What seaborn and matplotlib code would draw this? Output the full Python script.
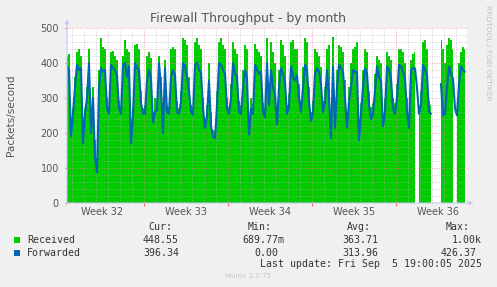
import numpy as np
import pandas as pd
import seaborn as sns
import matplotlib.pyplot as plt
import matplotlib.dates as mdates
from matplotlib.patches import Rectangle

# samples every 4 hours
start = pd.Timestamp('2025-08-04 14:00')
times = pd.date_range(start, periods=200, freq='4h')

received = [
    420, 425, 220, 270, 360, 430, 440, 420, 200, 270,
    330, 440, 250, 330, 180, 110, 380, 470, 445, 440,
    300, 275, 430, 435, 420, 410, 290, 275, 420, 465,
    440, 430, 200, 270, 450, 455, 440, 320, 270, 280,
    420, 430, 415, 260, 300, 300, 420, 360, 230, 410,
    280, 275, 440, 445, 440, 290, 270, 320, 470, 465,
    450, 360, 280, 275, 460, 470, 450, 440, 300, 240,
    280, 400, 260, 210, 205, 320, 460, 470, 450, 440,
    300, 275, 340, 460, 440, 425, 290, 280, 380, 450,
    440, 230, 300, 285, 455, 440, 430, 420, 285, 270,
    470, 320, 460, 430, 400, 260, 380, 465, 450, 420,
    280, 310, 460, 465, 440, 440, 340, 290, 390, 470,
    460, 330, 260, 290, 440, 430, 420, 390, 290, 330,
    440, 450, 230, 475, 260, 380, 450, 445, 430, 350,
    250, 330, 400, 440, 445, 460, 210, 285, 380, 440,
    430, 320, 275, 285, 370, 420, 410, 400, 250, 300,
    430, 420, 410, 300, 285, 340, 440, 440, 430, 400,
    300, 250, 410, 425, 430, np.nan, 280, 320, 460, 465,
    440, 290, 280, np.nan, np.nan, np.nan, np.nan, 465, 440, 400,
    450, 470, 465, 440, np.nan, 280, 400, 430, 445, 440,
]

forwarded = [
    390, 380, 190, 255, 330, 395, 380, 385, 170, 255,
    300, 400, 200, 300, 130, 88, 330, 385, 375, 380,
    270, 255, 395, 385, 380, 365, 270, 255, 395, 400,
    360, 390, 170, 250, 400, 385, 380, 285, 255, 255,
    350, 380, 355, 230, 260, 265, 400, 330, 200, 385,
    260, 255, 360, 380, 365, 260, 255, 290, 400, 390,
    360, 320, 260, 252, 395, 400, 380, 375, 270, 215,
    250, 350, 220, 190, 185, 280, 400, 395, 380, 370,
    270, 255, 300, 400, 370, 360, 260, 255, 330, 380,
    355, 195, 270, 255, 395, 380, 370, 375, 260, 245,
    400, 280, 380, 330, 310, 225, 330, 385, 370, 345,
    255, 275, 390, 360, 350, 365, 300, 260, 330, 395,
    380, 290, 235, 260, 370, 385, 375, 340, 260, 290,
    380, 300, 185, 390, 215, 330, 395, 385, 375, 300,
    215, 290, 330, 380, 375, 375, 180, 255, 330, 385,
    370, 280, 240, 255, 320, 390, 360, 350, 220, 260,
    390, 380, 355, 270, 255, 300, 395, 390, 375, 355,
    260, 215, 380, 385, 385, 330, 255, 280, 395, 380,
    365, 260, 255, np.nan, np.nan, np.nan, np.nan, 340, 250, 255,
    330, 390, 370, 355, 270, 250, 340, 390, 380, 375,
]

week_labels = ['Week 32', 'Week 33', 'Week 34', 'Week 35', 'Week 36']
legend_rows = [
    ('Received', '#00CC00', ['448.55', '689.77m', '363.71', '1.00k']),
    ('Forwarded', '#0066B3', ['396.34', '0.00', '313.96', '426.37']),
]

x = mdates.date2num(times.to_pydatetime())
df = pd.DataFrame({'time': x, 'received': received, 'forwarded': forwarded})
df['seg'] = df['forwarded'].isna().cumsum()

sns.set_style('white')
plt.rcParams['font.family'] = ['DejaVu Sans']

W, H = 497, 287
def fx(px):
    return px / W
def fy(py):
    return 1 - py / H

fig = plt.figure(figsize=(W / 100, H / 100), dpi=100, facecolor='#F0F0F0')
ax = fig.add_axes([fx(67), fy(203), 400 / W, 175 / H])
ax.set_facecolor('white')

# received as area
ax.fill_between(df['time'], 0, df['received'], step='mid', color='#00CC00',
                lw=0, zorder=1)

# grid (rrdtool draws it over the area)
t0 = mdates.date2num(start.to_pydatetime())
t_end = t0 + 800 / 24
days = mdates.date2num(pd.date_range('2025-08-05', '2025-09-06', freq='D').to_pydatetime())
mondays = mdates.date2num(pd.date_range('2025-08-11', periods=4, freq='7D').to_pydatetime())
mids = mdates.date2num(pd.date_range('2025-08-07 12:00', periods=5, freq='7D').to_pydatetime())
for v in range(20, 500, 20):
    if v % 100:
        ax.axhline(v, color='#B0B0B0', alpha=0.6, lw=0.7, ls=(0, (1, 1.5)), zorder=2)
for v in range(100, 501, 100):
    ax.axhline(v, color='#F08080', alpha=0.7, lw=0.7, ls=(0, (1, 1.5)), zorder=2)
for d in days:
    if d not in mondays:
        ax.axvline(d, color='#B0B0B0', alpha=0.6, lw=0.7, ls=(0, (1, 1.5)), zorder=2)
for d in mondays:
    ax.axvline(d, color='#F08080', alpha=0.7, lw=0.7, ls=(0, (1, 1.5)), zorder=2)

# forwarded as line
sns.lineplot(data=df.dropna(subset=['forwarded']), x='time', y='forwarded',
             units='seg', estimator=None, color='#0066B3', lw=1.5, ax=ax,
             zorder=3)

ax.set_xlim(t0, t_end)
ax.set_ylim(0, 500)
ax.set_xlabel('')
ax.set_ylabel('')
for s in ax.spines.values():
    s.set_visible(False)

ax.set_yticks(range(0, 501, 100))
ax.tick_params(axis='y', which='major', direction='out', length=1.5, width=0.8,
               color='#FF6060', labelsize=7, labelcolor='#555555', pad=4.3, left=True)
ax.set_xticks(mids)
ax.set_xticklabels(week_labels)
ax.tick_params(axis='x', which='major', length=0, labelsize=7,
               labelcolor='#555555', pad=3)
ax.set_xticks(mondays, minor=True)
ax.tick_params(axis='x', which='minor', direction='out', length=2, width=0.8,
               color='#FF6060', bottom=True)

# axis lines with arrows
ax.annotate('', xy=(0, 1.05), xytext=(0, 0), xycoords='axes fraction',
            arrowprops=dict(arrowstyle='-|>', color='#C8C8F0', lw=0.8,
                            mutation_scale=6, shrinkA=0, shrinkB=0),
            annotation_clip=False)
ax.annotate('', xy=(1.016, 0), xytext=(0, 0), xycoords='axes fraction',
            arrowprops=dict(arrowstyle='-|>', color='#C8C8F0', lw=0.8,
                            mutation_scale=6, shrinkA=0, shrinkB=0),
            annotation_clip=False)

fig.text(fx(248.5), fy(18.5), 'Firewall Throughput - by month', ha='center',
         va='center', fontsize=9, color='#555555')
fig.text(fx(11), fy(115.5), 'Packets/second', rotation=90, ha='center',
         va='center', fontsize=7.6, color='#555555')
fig.text(fx(488), fy(53), 'RRDTOOL / TOBI OETIKER', rotation=270, ha='center',
         va='center', fontsize=5.4, color='#C0C0C0')

# legend block, munin style
mono = dict(family='DejaVu Sans Mono', fontsize=7.1, color='#333333', va='center')
for lab, xr in zip(['Cur:', 'Min:', 'Avg:', 'Max:'], [172, 272, 371, 470]):
    fig.text(fx(xr), fy(227.5), lab, ha='right', **mono)
value_right = [[179, 284, 378, 482], [179, 278, 378, 477]]
for i, (name, col, vals) in enumerate(legend_rows):
    yc = 240 + 12.5 * i
    fig.add_artist(Rectangle((fx(14), fy(yc + 3)), 6 / W, 6 / H,
                             transform=fig.transFigure, color=col, lw=0))
    fig.text(fx(27), fy(yc), name, ha='left', **mono)
    for v, xr in zip(vals, value_right[i]):
        fig.text(fx(xr), fy(yc), v, ha='right', **mono)
fig.text(fx(482), fy(264), 'Last update: Fri Sep  5 19:00:05 2025', ha='right', **mono)
fig.text(fx(248), fy(276), 'Munin 2.0.75', ha='center', va='center',
         fontsize=5, color='#C8C8C8')

fig.savefig('out.png', dpi=100, facecolor=fig.get_facecolor())
